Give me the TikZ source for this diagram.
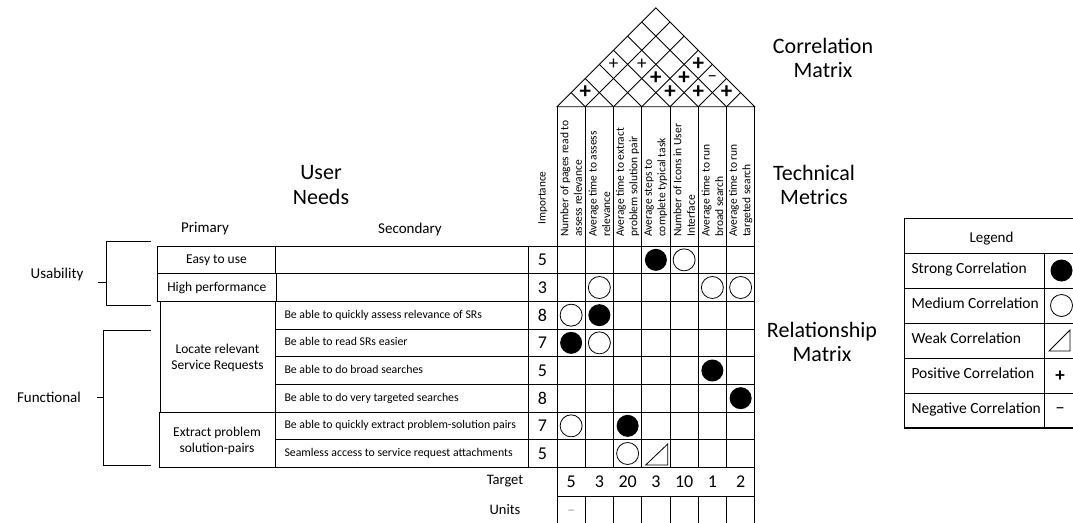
\documentclass[tikz,border=0pt]{standalone}
\usepackage{fontspec}
\setmainfont{Carlito}
\begin{document}
\begin{tikzpicture}[x=1pt,y=-1pt,
  grid/.style={line width=0.9pt},
  thick line/.style={line width=1.4pt},
  biglabel/.style={font=\fontsize{22}{24.5}\selectfont, align=center},
  colhead/.style={font=\fontsize{15}{18}\selectfont},
  brlabel/.style={font=\fontsize{15}{18}\selectfont},
  primtext/.style={font=\fontsize{13.5}{16}\selectfont, align=center},
  sectext/.style={font=\fontsize{11.8}{14}\selectfont, anchor=west, text height=1.5ex, text depth=.3ex},
  imptext/.style={font=\fontsize{18}{20}\selectfont},
  mettext/.style={font=\fontsize{11.5}{13.6}\selectfont, rotate=90, anchor=west, align=left, inner sep=2pt},
  legtext/.style={font=\fontsize{15.5}{18}\selectfont, anchor=west, text height=1.5ex, text depth=.3ex},
  pluscell/.style={font=\fontsize{23}{24}\selectfont\bfseries, inner sep=0pt},
  thinplus/.style={font=\fontsize{19}{20}\selectfont, inner sep=0pt},
  strongc/.style={circle, fill=black, minimum size=22pt, inner sep=0pt},
  mediumc/.style={circle, draw, line width=0.8pt, minimum size=22pt, inner sep=0pt}
]
\useasboundingbox (0,0) rectangle (1073,522);
\begin{scope}
\clip (0,0) rectangle (1073,522);

% ---------------- big labels
\node[biglabel] (corr) at (823,58) {Correlation\\Matrix};
\node[biglabel] (tech) at (814,185) {Technical\\Metrics};
\node[biglabel] (rel) at (822,342) {Relationship\\Matrix};
\node[biglabel] (user) at (321,185) {User\\Needs};
\node[colhead] (prim) at (205,229) {Primary};
\node[colhead] (sec) at (410,229) {Secondary};
\node[font=\fontsize{21}{24}\selectfont, anchor=east] (cut) at (3.5,497) {e};

% ---------------- roof
\draw[grid] (557,106.7) -- (655.875,7.825) -- (754.75,106.7) -- cycle;
\foreach \k in {1,...,6} {
  \pgfmathsetmacro\bx{557+28.25*\k}
  \draw[grid] (\bx,106.7) -- ({(\bx+754.75)/2},{106.7-(754.75-\bx)/2});
  \draw[grid] (\bx,106.7) -- ({(\bx+557)/2},{106.7-(\bx-557)/2});
}
\foreach \i/\j/\t [count=\n] in {1/2/B,4/5/B,5/6/B,6/7/B,3/5/B,4/6/B,4/7/B,1/4/T,2/5/T,5/7/M} {
  \pgfmathsetmacro\mx{557+28.25*((\i+\j)/2-0.5)}
  \pgfmathsetmacro\my{106.7-(\j-\i)*14.125}
  \if\t B \node[pluscell] (roof\n) at (\mx,\my) {+};\fi
  \if\t T \node[thinplus] (roof\n) at (\mx,\my) {+};\fi
  \if\t M \node[thinplus] (roof\n) at (\mx,\my) {–};\fi
}

% ---------------- metric headers
\foreach \k in {0,...,7} \draw[grid] ({557+28.25*\k},106.7) -- ({557+28.25*\k},246);
\node[font=\fontsize{11.3}{13.6}\selectfont, rotate=90] (imp) at (543,198) {Importance};
\foreach \txt [count=\k] in {Number of pages read to\\assess relevance,
  Average time to assess\\relevance,
  Average time to extract\\problem solution pair,
  Average steps to\\complete typical task,
  Number of Icons in User\\Interface,
  Average time to run\\broad search,
  Average time to run\\targeted search} {
  \node[mettext] (met\k) at ({557+28.25*(\k-0.5)},239) {\txt};
}

% ---------------- user needs rows
\foreach \k in {1,...,7} \draw[grid] (275,{246+27.667*\k}) -- (754.75,{246+27.667*\k});
\draw[grid] (157.5,246) -- (754.75,246);
\draw[grid] (159,467.33) -- (754.75,467.33);
\draw[grid] (528,246) -- (528,467.33);
\foreach \k in {1,...,6} \draw[grid] ({557+28.25*\k},246) -- ({557+28.25*\k},467.33);
\draw[grid] (557,246) -- (557,467.33);
\draw[thick line] (754.75,106.7) -- (754.75,467.33);

\draw[grid] (157.5,246) rectangle (275.5,273.67);
\node[primtext] (easy) at (216.5,259.8) {Easy to use};
\draw[grid] (157.5,273.67) rectangle (276,301.33);
\node[primtext] (perf) at (216.8,287.5) {High performance};
\draw[grid] (160,301.33) rectangle (275,412);
\node[primtext] (locate) at (217.5,357.5) {Locate relevant\\Service Requests};
\draw[grid] (159,412) rectangle (275,467.33);
\node[primtext] (extract) at (217,440.5) {Extract problem\\solution-pairs};

\foreach \txt [count=\k from 3] in {Be able to quickly assess relevance of SRs,
  Be able to read SRs easier,
  Be able to do broad searches,
  Be able to do very targeted searches,
  Be able to quickly extract problem-solution pairs,
  Seamless access to service request attachments} {
  \node[sectext] (need\k) at (281,{246+27.667*(\k-0.5)}) {\txt};
}
\foreach \v [count=\k] in {5,3,8,7,5,8,7,5} {
  \node[imptext] (impv\k) at (542.5,{246+27.667*(\k-0.5)}) {\v};
}

% brackets
\draw[grid] (150.8,241.5) -- (106.5,241.5) -- (106.5,305) -- (150.8,305);
\draw[grid] (98,282.5) -- (106.5,282.5);
\node[brlabel] (usab) at (57,274) {Usability};
\draw[grid] (150.8,330.3) -- (103.3,330.3) -- (103.3,465.5) -- (150.8,465.5);
\draw[grid] (96.5,397.5) -- (103.3,397.5);
\node[brlabel] (func) at (49,397.5) {Functional};

% ---------------- relationship symbols
\foreach \r/\c/\t [count=\n] in {1/4/F,1/5/O,2/2/O,2/6/O,2/7/O,3/1/O,3/2/F,4/1/F,4/2/O,5/6/F,6/7/F,7/1/O,7/3/F,8/3/O} {
  \pgfmathsetmacro\cx{557+28.25*(\c-0.5)}
  \pgfmathsetmacro\cy{246+27.667*(\r-0.5)}
  \if\t F \node[strongc] (rs\n) at (\cx,\cy) {};\fi
  \if\t O \node[mediumc] (rs\n) at (\cx,\cy) {};\fi
}
\draw[line width=0.8pt] (645.7,465) -- (667.7,444) -- (667.7,465) -- cycle;

% ---------------- target and units
\draw[grid] (557,467.33) rectangle (754.75,496.7);
\foreach \k in {0,...,7} \draw[grid] ({557+28.25*\k},496.7) -- ({557+28.25*\k},525);
\foreach \v [count=\k] in {5,3,20,3,10,1,2} {
  \node[imptext] (tgt\k) at ({557+28.25*(\k-0.5)},482) {\v};
}
\node[font=\fontsize{14.5}{16}\selectfont] (target) at (505,481) {Target};
\node[font=\fontsize{14.5}{16}\selectfont] (units) at (505,509.5) {Units};
\node[font=\fontsize{3}{4}\selectfont, text=black!60] (tinyu) at (571,510) {Units};

% ---------------- legend
\draw[grid] (1085,218) -- (904,218) -- (904,428);
\draw[thick line] (904,428) -- (1085,428);
\foreach \y in {253,288,323,358,393} \draw[grid] (904,\y) -- (1085,\y);
\draw[grid] (1044,253) -- (1044,428);
\node[font=\fontsize{15}{18}\selectfont] (legend) at (991.5,239) {Legend};
\node[legtext] (l1) at (908,271) {Strong Correlation};
\node[legtext] (l2) at (908,306) {Medium Correlation};
\node[legtext] (l3) at (908,341) {Weak Correlation};
\node[legtext] (l4) at (908,376) {Positive Correlation};
\node[legtext] (l5) at (908,411) {Negative Correlation};
\node[strongc] (ls1) at (1061.5,270.5) {};
\node[mediumc] (ls2) at (1061.5,305.5) {};
\draw[line width=0.8pt] (1049,351) -- (1070,330) -- (1070,351) -- cycle;
\node[pluscell, font=\fontsize{19}{20}\selectfont\bfseries] (lp) at (1060,376) {+};
\node[thinplus] (lm) at (1060,410.5) {–};
\end{scope}
\end{tikzpicture}
\end{document}
